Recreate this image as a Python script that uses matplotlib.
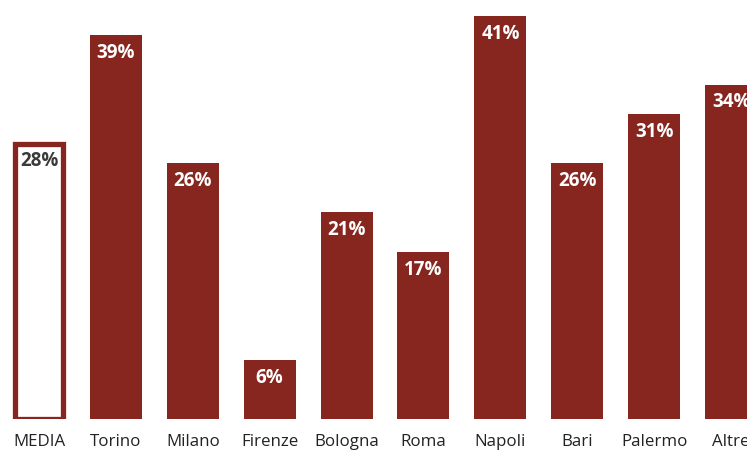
import numpy as np
import matplotlib.pyplot as plt

# dati
categorie = ['MEDIA', 'Torino', 'Milano', 'Firenze', 'Bologna', 'Roma',
             'Napoli', 'Bari', 'Palermo', 'Altre']
valori = [28, 39, 26, 6, 21, 17, 41, 26, 31, 34]

rosso = '#86261f'
plt.rcParams['font.family'] = ['Open Sans', 'DejaVu Sans']

fig = plt.figure(figsize=(7.47, 4.51), dpi=100)
ax = fig.add_axes([0, 32 / 451, 1, 1 - 32 / 451])

x = np.arange(len(categorie))
larg = 0.676

# MEDIA: barra vuota con bordo
ax.bar(x[0], valori[0], width=larg * 0.93, color='white', edgecolor=rosso,
       linewidth=3.8, zorder=2)
ax.bar(x[1:], valori[1:], width=larg, color=rosso, zorder=2)

for i, v in enumerate(valori):
    col = '#3a3a3a' if i == 0 else 'white'
    ax.text(x[i], v - 0.8, f'{v}%', ha='center', va='top', color=col,
            fontsize=13.5, fontweight='bold')

ax.set_xlim(-0.507, 9.207)
ax.set_ylim(0, 42.6)
ax.set_xticks(x)
ax.set_xticklabels(categorie, fontsize=12.2, color='#222222')
ax.tick_params(axis='x', length=0, pad=10.5)
ax.set_yticks([])
for s in ax.spines.values():
    s.set_visible(False)

fig.savefig('out.png', dpi=100)
